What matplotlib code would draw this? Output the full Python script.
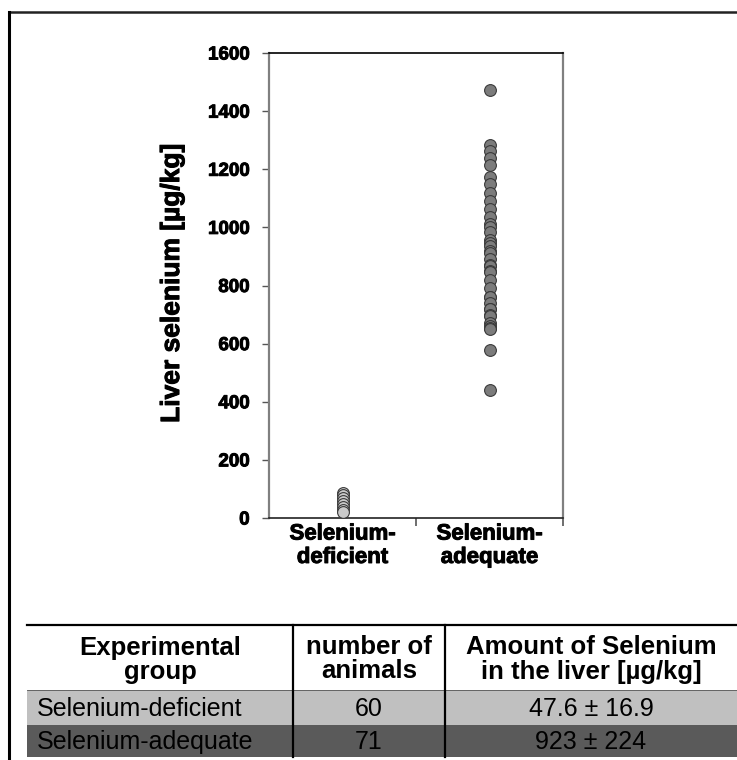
import matplotlib
matplotlib.use("Agg")
import matplotlib.pyplot as plt
import matplotlib.patheffects as pe
from matplotlib.lines import Line2D
from matplotlib.patches import Rectangle

plt.rcParams['font.family'] = ['Liberation Sans', 'DejaVu Sans']

# ---------------- data ----------------
categories = ["Selenium-\ndeficient", "Selenium-\nadequate"]
deficient_values = [86, 78, 68, 58, 48, 38, 28, 20]
adequate_values = [1473, 1283, 1262, 1238, 1214, 1175, 1150, 1118, 1090, 1062, 1035,
                   1010, 1000, 985, 958, 945, 935, 920, 912, 890, 870, 866, 850, 845,
                   820, 790, 762, 760, 740, 720, 718, 700, 695, 672, 660, 655, 650,
                   578, 440]
y_ticks = [0, 200, 400, 600, 800, 1000, 1200, 1400, 1600]
y_label = "Liver selenium [µg/kg]"

table_header = ["Experimental\ngroup", "number of\nanimals", "Amount of Selenium\nin the liver [µg/kg]"]
table_groups = ["Selenium-deficient", "Selenium-adequate"]
table_n = ["60", "71"]
table_amount = ["47.6 ± 16.9", "923 ± 224"]

# ---------------- figure ----------------
W, H = 737, 760
fig = plt.figure(figsize=(W / 100, H / 100), dpi=100)
fig.patch.set_facecolor("white")

heavy = [pe.withStroke(linewidth=0.7, foreground="black")]

# overlay in pixel coordinates for frame + table
ov = fig.add_axes([0, 0, 1, 1])
ov.set_xlim(0, W)
ov.set_ylim(H, 0)
ov.axis("off")

# outer frame
ov.add_line(Line2D([9, W], [12, 12], color="#222222", lw=1.8))
ov.add_line(Line2D([9, 9], [12, H], color="black", lw=2.2))

# table
tl, tr = 27, W
col_x = [27, 293, 445, W]
y_top, y_r1, y_r2, y_bot = 625, 690, 725, 757
ov.add_patch(Rectangle((tl, y_r1), tr - tl, y_r2 - y_r1, facecolor="#c0c0c0", edgecolor="none"))
ov.add_patch(Rectangle((tl, y_r2), tr - tl, y_bot - y_r2, facecolor="#5a5a5a", edgecolor="none"))
ov.add_line(Line2D([tl, tr], [y_top, y_top], color="black", lw=1.6))
ov.add_line(Line2D([tl, tr], [y_r1, y_r1], color="#555555", lw=0.6))
for cx in col_x[1:3]:
    ov.add_line(Line2D([cx, cx], [y_top, y_bot], color="black", lw=1.6))

fs_head = 18.5
fs_row = 18
for i, txt in enumerate(table_header):
    cx = (col_x[i] + col_x[i + 1]) / 2
    ov.text(cx, (y_top + y_r1) / 2 + 2, txt, ha="center", va="center", fontsize=fs_head,
            fontweight="bold", linespacing=1.0)
row_mid = [(y_r1 + y_r2) / 2, (y_r2 + y_bot) / 2]
for r in range(2):
    ov.text(37, row_mid[r] + 1, table_groups[r], ha="left", va="center", fontsize=fs_row)
    ov.text((col_x[1] + col_x[2]) / 2, row_mid[r] + 1, table_n[r], ha="center", va="center", fontsize=fs_row)
    ov.text((col_x[2] + col_x[3]) / 2, row_mid[r] + 1, table_amount[r], ha="center", va="center", fontsize=fs_row)

# ---------------- main plot ----------------
ax_l, ax_r, ax_t, ax_b = 269, 563, 53, 518
ax = fig.add_axes([ax_l / W, 1 - ax_b / H, (ax_r - ax_l) / W, (ax_b - ax_t) / H])
ax.set_facecolor("none")

ax.scatter([0.5] * len(deficient_values), deficient_values, s=72, facecolor="#cacaca",
           edgecolor="#3a3a3a", linewidth=0.8, zorder=3, clip_on=False)
ax.scatter([1.5] * len(adequate_values), adequate_values, s=72, facecolor="#7c7c7c",
           edgecolor="#3a3a3a", linewidth=0.8, zorder=3, clip_on=False)

ax.set_xlim(0, 2)
ax.set_ylim(0, 1600)
ax.set_yticks(y_ticks)
ax.set_yticklabels([str(v) for v in y_ticks], fontsize=13.5, fontweight="bold")
ax.set_xticks([0.5, 1.5])
ax.set_xticklabels(categories, fontsize=16, fontweight="bold", linespacing=1.15)
ax.set_xticks([1, 2], minor=True)
ax.tick_params(axis="x", which="major", length=0, pad=4)
ax.tick_params(axis="x", which="minor", length=6, width=1.2, color="#555555", direction="out")
ax.tick_params(axis="y", length=5, width=1.0, color="#555555", pad=9, direction="out")
for lab in ax.get_yticklabels() + ax.get_xticklabels():
    lab.set_path_effects(heavy)

ax.spines["left"].set_color("#808080")
ax.spines["left"].set_linewidth(1.6)
ax.spines["right"].set_color("#808080")
ax.spines["right"].set_linewidth(1.6)
ax.spines["top"].set_color("black")
ax.spines["top"].set_linewidth(1.2)
ax.spines["bottom"].set_color("#222222")
ax.spines["bottom"].set_linewidth(1.2)

yl = ax.set_ylabel(y_label, fontsize=19, fontweight="bold")
yl.set_path_effects(heavy)
ax.yaxis.set_label_coords(-0.289, 0.505)

fig.savefig("out.png", dpi=100, facecolor="white")
